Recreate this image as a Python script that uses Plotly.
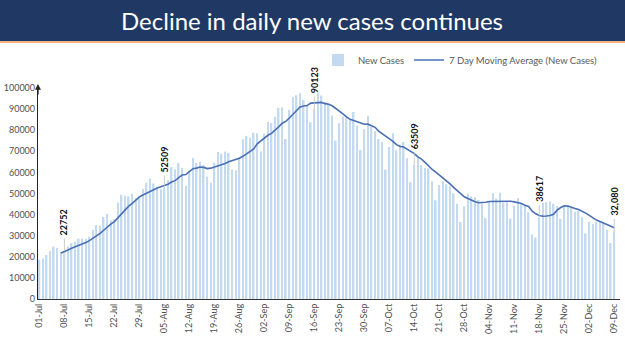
import datetime as dt
import plotly.graph_objects as go

# ---------------- data ----------------
start = dt.date(2020, 7, 1)
new_cases = [
    # Jul
    18653, 19148, 20903, 22771, 24850, 24248, 22252, 22752, 24879, 26506,
    27114, 28637, 28701, 28498, 29429, 32695, 34956, 34884, 38902, 40425,
    37148, 37724, 45720, 49310, 48916, 48661, 49931, 47704, 48513, 52123,
    55078,
    # Aug
    57118, 54735, 52972, 52050, 52509, 56282, 62538, 61537, 64399, 62064,
    53601, 60963, 66999, 64553, 65002, 63490, 57981, 55079, 64531, 69652,
    68898, 69878, 69239, 61408, 60975, 67151, 75760, 77266, 76472, 78761,
    78512,
    # Sep
    69921, 78357, 83883, 83341, 86432, 90632, 90802, 75809, 89706, 95735,
    96551, 97570, 94372, 92071, 83809, 90123, 97894, 96424, 93337, 92605,
    86961, 75083, 83347, 86508, 86052, 85362, 88600, 82170, 70589, 80472,
    # Oct
    86821, 81484, 79476, 75829, 74442, 61267, 72049, 78524, 70496, 73272,
    74383, 66732, 55342, 63509, 67708, 63371, 62212, 61871, 55722, 46790,
    54044, 55839, 54366, 53370, 50129, 45148, 36470, 43893, 49881, 48648,
    48268,
    # Nov
    46963, 45231, 38310, 46253, 50209, 47638, 50357, 45674, 45903, 38073,
    44281, 47905, 44878, 44684, 41100, 30548, 29163, 38617, 45576, 45882,
    46232, 45209, 44059, 37975, 44376, 44489, 43082, 41322, 41810, 38772,
    # Dec
    31118, 36604, 35551, 36595, 36652, 36011, 32981, 26567, 32080,
]

# 7-day moving average, starting 07-Jul
moving_avg = [
    21832, 22418, 23236, 24037, 24657, 25198, 25834, 26727, 27681, 28797,
    30004, 31114, 32581, 34256, 35491, 36676, 38537, 40588, 42592, 43986,
    45344, 46852, 48394, 49308, 50132,
    51304, 52172, 52606, 53227, 53798, 54392, 55458, 56089, 57470, 58768,
    58990, 60198, 61729, 62017, 62512, 62382, 61798, 62010, 62519, 62898,
    63519, 64216, 65037, 65526, 66369, 66743, 67616, 68811, 69753, 71113,
    73557,
    74835, 76436, 77596, 78464, 79887, 81583, 83338, 84179, 85801, 87494,
    89381, 90972, 91506, 91688, 92831, 92890, 93199, 93180, 92576, 92323,
    91593, 90347, 89379, 87752, 86270, 85131, 84559, 83875, 83233, 82822,
    82867, 82214, 81373, 79549, 78445, 77113, 75910, 74724, 73155, 72268,
    72062, 70960, 70114, 68894, 67349, 66331, 64751, 62964, 61391, 60169,
    58817, 57121, 55835, 54572, 52894, 51384, 49909, 48459, 47608, 46791,
    46062,
    45610, 45622, 45885, 46222, 46269, 46125, 46423, 46239, 46335, 46301,
    46019, 45690, 45296, 44485, 43832, 41638, 40366, 39556, 39224, 39367,
    39588, 40175, 42105, 43364, 44187, 44032, 43632, 42930, 42445, 41689,
    40710, 39600, 38323, 37396, 36729, 35900, 35073, 34423, 33777,
]
ma_start_offset = 6  # first average plotted on 07-Jul

labels = [(start + dt.timedelta(days=i)).strftime("%d-%b") for i in range(len(new_cases))]
tick_labels = labels[::7]

highlight_days = ["08-Jul", "05-Aug", "16-Sep", "14-Oct", "18-Nov", "09-Dec"]
highlight_text = ["22752", "52509", "90123", "63509", "38617", "32,080"]

title_text = "Decline in daily new cases continues"

# ---------------- figure ----------------
W, H = 625, 351
ML, MR, MT, MB = 38, 5, 88, 52
plot_h = H - MT - MB
plot_w = W - ML - MR

def py(pix):
    """pixel row -> paper y"""
    return (H - MB - pix) / plot_h

def px(pix):
    """pixel column -> paper x"""
    return (pix - ML) / plot_w

fig = go.Figure()
fig.add_trace(go.Bar(
    x=labels, y=new_cases, name="New Cases",
    marker=dict(color="#c3daf0", line=dict(width=0)),
))
fig.add_trace(go.Scatter(
    x=labels[ma_start_offset:], y=moving_avg, mode="lines",
    name="7 Day Moving Average (New Cases)",
    line=dict(color="#4a6fb5", width=1.6),
))

annotations = []
for d, t in zip(highlight_days, highlight_text):
    yv = new_cases[labels.index(d)]
    annotations.append(dict(
        x=d, y=yv, xref="x", yref="y", text="<b>" + t + "</b>",
        textangle=-90, showarrow=False, yanchor="bottom", yshift=14,
        font=dict(family="Lato, Arial", size=9, color="#111111"),
    ))
    annotations.append(dict(
        x=d, y=yv, xref="x", yref="y", text="", showarrow=True,
        ax=0, ay=-14, arrowhead=0, arrowwidth=0.8, arrowcolor="#bfbfbf",
    ))

# title
annotations.append(dict(
    x=px(312), xref="paper", y=py(21), yref="paper", text=title_text,
    showarrow=False, xanchor="center", yanchor="middle",
    font=dict(family="Lato, Arial", size=24, color="white"),
))
# y-axis arrow
annotations.append(dict(
    x=0, xref="paper", y=py(84), yref="paper", ax=0, ay=12, text="",
    showarrow=True, arrowhead=2, arrowsize=0.9, arrowwidth=1.3, arrowcolor="#222222",
))

shapes = [
    dict(type="rect", xref="paper", yref="paper", x0=-1, x1=2, y0=py(41), y1=py(-2),
         fillcolor="#1f3864", line=dict(width=0), layer="above"),
    dict(type="line", xref="paper", yref="paper", x0=-1, x1=2, y0=py(42), y1=py(42),
         line=dict(color="#f4b183", width=2)),
]

n = len(new_cases)
fig.update_layout(
    width=W, height=H,
    margin=dict(l=ML, r=MR, t=MT, b=MB),
    paper_bgcolor="white", plot_bgcolor="white",
    bargap=0.55,
    showlegend=True,
    legend=dict(orientation="h", x=px(318), xanchor="left", y=py(60), yanchor="middle",
                font=dict(family="Lato, Arial", size=9.5, color="#595959"),
                bgcolor="rgba(0,0,0,0)", itemwidth=30, tracegroupgap=0),
    xaxis=dict(
        type="category", range=[-0.4, n + 0.6],
        tickmode="array", tickvals=tick_labels, ticktext=tick_labels,
        tickangle=-90, showgrid=False, showline=True, linecolor="#333333", linewidth=1.3,
        ticks="", tickfont=dict(family="Lato, Arial", size=9, color="#505050"),
    ),
    yaxis=dict(
        range=[0, 100000], dtick=10000, tickformat="d", showgrid=False,
        showline=True, linecolor="#222222", linewidth=1.3, ticks="",
        tickfont=dict(family="Lato, Arial", size=9, color="#505050"),
        zeroline=False,
    ),
    annotations=annotations,
    shapes=shapes,
)

fig.write_html("out.html")
